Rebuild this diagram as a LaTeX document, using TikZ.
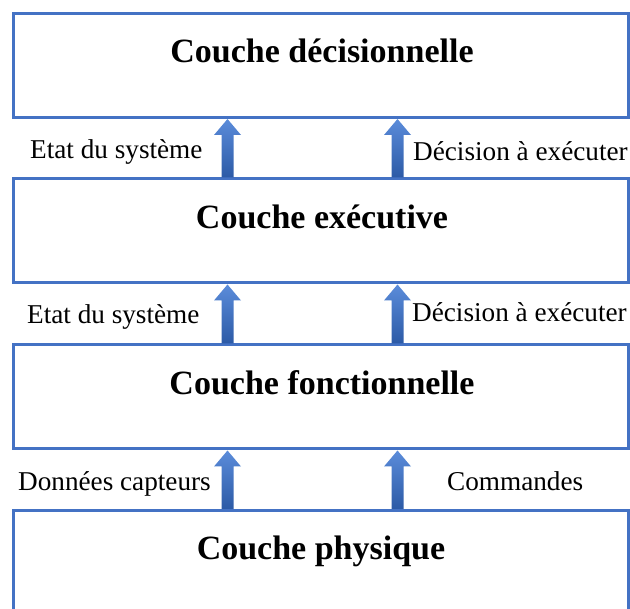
\documentclass[tikz,border=0pt]{standalone}
\usepackage{fontspec}
\setmainfont{Liberation Serif}
\usetikzlibrary{calc}
\definecolor{boxblue}{HTML}{4472C4}
\definecolor{arrtop}{HTML}{5B8CDA}
\definecolor{arrbot}{HTML}{2C5AA6}
\tikzset{
  layer/.style={draw=boxblue, line width=3pt, rectangle, inner sep=0pt,
    minimum width=614.5pt, minimum height=104pt, fill=white},
  title/.style={font=\fontsize{34}{40}\selectfont\bfseries, inner sep=0pt, anchor=base},
  lab/.style={font=\fontsize{27.2}{30}\selectfont, inner sep=0pt},
  arrowshade/.style={top color=arrtop, bottom color=arrbot, draw=none}
}
\newcommand\blockarrow[2]{%
  \shade[arrowshade] ($(#1)+(-6,0)$) -- ($(#2)+(-6,16)$) -- ($(#2)+(-13.5,16)$) -- (#2)
    -- ($(#2)+(13.5,16)$) -- ($(#2)+(6,16)$) -- ($(#1)+(6,0)$) -- cycle;}
\begin{document}
\begin{tikzpicture}[x=1pt,y=-1pt]
\useasboundingbox (0,0) rectangle (630,609);
\clip (0,0) rectangle (630,609);
% boxes
\node[layer] (L1) at (320.75,65.5) {};
\node[layer] (L2) at (320.75,231) {};
\node[layer] (L3) at (320.75,397) {};
\node[layer] (L4) at (320.75,562.5) {};
% titles
\node[title] (T1) at (322,63) {Couche décisionnelle};
\node[title] (T2) at (322,228.5) {Couche exécutive};
\node[title] (T3) at (322,394.5) {Couche fonctionnelle};
\node[title] (T4) at (321,560) {Couche physique};
% arrow anchors
\foreach \lo/\hi/\n in {L2/L1/1, L3/L2/2, L4/L3/3}{
  \coordinate (a\n b) at ($(\lo.north west)+(215.5,0)$);
  \coordinate (a\n t) at ($(\hi.south west)+(215.5,0)$);
  \coordinate (c\n b) at ($(\lo.north west)+(385.5,0)$);
  \coordinate (c\n t) at ($(\hi.south west)+(385.5,0)$);
}
\blockarrow{a1b}{a1t}
\blockarrow{c1b}{c1t}
\blockarrow{a2b}{a2t}
\blockarrow{c2b}{c2t}
\blockarrow{a3b}{a3t}
\blockarrow{c3b}{c3t}
% labels
\node[lab, anchor=base west] (E1) at (30,158.5) {Etat du système};
\node[lab, anchor=base west] (D1) at (413,161) {Décision à exécuter};
\node[lab, anchor=base west] (E2) at (27,324) {Etat du système};
\node[lab, anchor=base west] (D2) at (412,321.5) {Décision à exécuter};
\node[lab, anchor=base west] (DC) at (18,491) {Données capteurs};
\node[lab, anchor=base west] (CM) at (447,491) {Commandes};
\end{tikzpicture}
\end{document}
